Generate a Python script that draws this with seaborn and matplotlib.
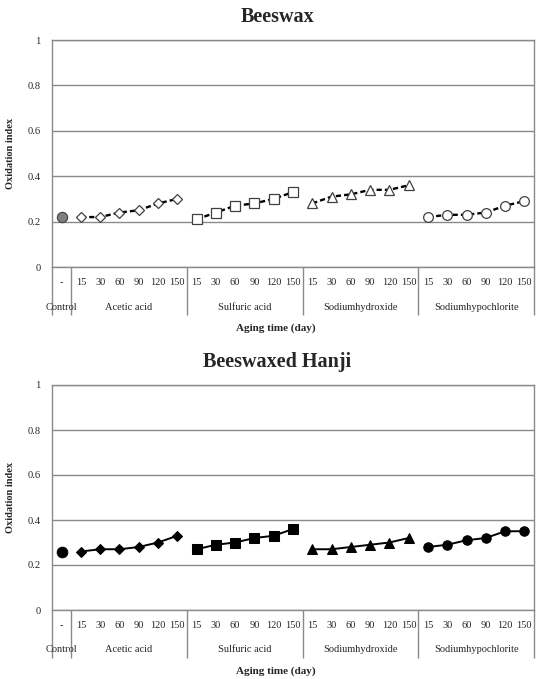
import matplotlib
matplotlib.use("Agg")
import matplotlib.pyplot as plt
import numpy as np
import pandas as pd
import seaborn as sns

# ---- data ----
days = ["15", "30", "60", "90", "120", "150"]
groups = ["Acetic acid", "Sulfuric acid", "Sodiumhydroxide", "Sodiumhypochlorite"]

beeswax_control = 0.22
beeswax_acetic = [0.22, 0.22, 0.24, 0.25, 0.28, 0.30]
beeswax_sulfuric = [0.21, 0.24, 0.27, 0.28, 0.30, 0.33]
beeswax_naoh = [0.28, 0.31, 0.32, 0.34, 0.34, 0.36]
beeswax_naocl = [0.22, 0.23, 0.23, 0.24, 0.27, 0.29]

hanji_control = 0.26
hanji_acetic = [0.26, 0.27, 0.27, 0.28, 0.30, 0.33]
hanji_sulfuric = [0.27, 0.29, 0.30, 0.32, 0.33, 0.36]
hanji_naoh = [0.27, 0.27, 0.28, 0.29, 0.30, 0.32]
hanji_naocl = [0.28, 0.29, 0.31, 0.32, 0.35, 0.35]

sns.set_theme(style="white")
plt.rcParams["font.family"] = ["Liberation Serif", "DejaVu Serif"]

W, H = 536, 679
fig = plt.figure(figsize=(W / 100, H / 100), dpi=100)

GRID = "#8a8a8a"
markers = ["D", "s", "^", "o"]
msizes = [5.4, 7.2, 7.2, 7.0]


def make_df(series):
    rows = []
    for g, vals in zip(groups, series):
        for d, v in zip(days, vals):
            rows.append({"group": g, "day": d, "value": v})
    df = pd.DataFrame(rows)
    df["pos"] = [1 + i for i in range(len(df))]
    return df


def draw_panel(ax, title, control, series, open_markers, ybot_px, ytop_px):
    df = make_df(series)
    for i, g in enumerate(groups):
        sub = df[df.group == g]
        if open_markers:
            sns.lineplot(data=sub, x="pos", y="value", ax=ax, color="black",
                         linestyle=(0, (2.2, 1.3)), linewidth=1.7,
                         marker=markers[i], markersize=msizes[i],
                         markerfacecolor="white", markeredgecolor="#404040",
                         markeredgewidth=0.9)
        else:
            sns.lineplot(data=sub, x="pos", y="value", ax=ax, color="black",
                         linewidth=1.4, marker=markers[i],
                         markersize=msizes[i] - 0.2,
                         markerfacecolor="black", markeredgecolor="black")
    cdf = pd.DataFrame({"pos": [0], "value": [control]})
    if open_markers:
        sns.scatterplot(data=cdf, x="pos", y="value", ax=ax, s=55,
                        color="#7f7f7f", edgecolor="#404040", linewidth=0.8,
                        zorder=5)
    else:
        sns.scatterplot(data=cdf, x="pos", y="value", ax=ax, s=60,
                        color="black", edgecolor="black", zorder=5)

    n = 1 + len(groups) * len(days)
    hpx = ybot_px - ytop_px
    ax.set_xlim(-0.5, n - 0.5)
    ax.set_ylim(0, 1)
    ax.set_yticks([0, 0.2, 0.4, 0.6, 0.8, 1.0])
    ax.set_yticklabels(["0", "0.2", "0.4", "0.6", "0.8", "1"], fontsize=7.6)
    ax.set_xticks(range(n))
    ax.set_xticklabels(["-"] + days * len(groups), fontsize=7.5)
    ax.tick_params(axis="x", length=0, pad=8)
    ax.tick_params(axis="y", length=0, pad=8)
    ax.grid(axis="y", color=GRID, linewidth=1.0)
    for s in ax.spines.values():
        s.set_color(GRID)
        s.set_linewidth(1.0)
    ax.set_xlabel("")
    ax.set_ylabel("Oxidation index", fontsize=7.5, fontweight="bold")
    ax.yaxis.set_label_coords(-37 / 482, 0.5)

    # group separators and category labels below the axis
    depth = 48 / hpx
    trans = ax.get_xaxis_transform()
    seps = [-0.5, 0.5] + [0.5 + len(days) * (k + 1) for k in range(len(groups))]
    ax.vlines(seps, -depth, 0, transform=trans, colors=GRID, linewidth=1.0,
              clip_on=False)
    lab_y = -40 / hpx
    ax.text(0, lab_y, "Control", transform=trans, ha="center", va="center",
            fontsize=7.5)
    for k, g in enumerate(groups):
        ax.text(1 + len(days) * k + 2.5, lab_y, g, transform=trans,
                ha="center", va="center", fontsize=7.5)
    ax.text(0.465, -61 / hpx, "Aging time (day)",
            transform=ax.transAxes, ha="center", va="center", fontsize=8,
            fontweight="bold")
    ax.text(0.467, 1 + 23 / hpx, title, transform=ax.transAxes,
            ha="center", va="center", fontsize=14.5, fontweight="bold")


left, right = 52, 534
ax1 = fig.add_axes([left / W, (H - 267) / H, (right - left) / W, (267 - 40) / H])
ax2 = fig.add_axes([left / W, (H - 610) / H, (right - left) / W, (610 - 385) / H])

draw_panel(ax1, "Beeswax", beeswax_control,
           [beeswax_acetic, beeswax_sulfuric, beeswax_naoh, beeswax_naocl],
           True, 267, 40)
draw_panel(ax2, "Beeswaxed Hanji", hanji_control,
           [hanji_acetic, hanji_sulfuric, hanji_naoh, hanji_naocl],
           False, 610, 385)

fig.savefig("out.png", dpi=100)
